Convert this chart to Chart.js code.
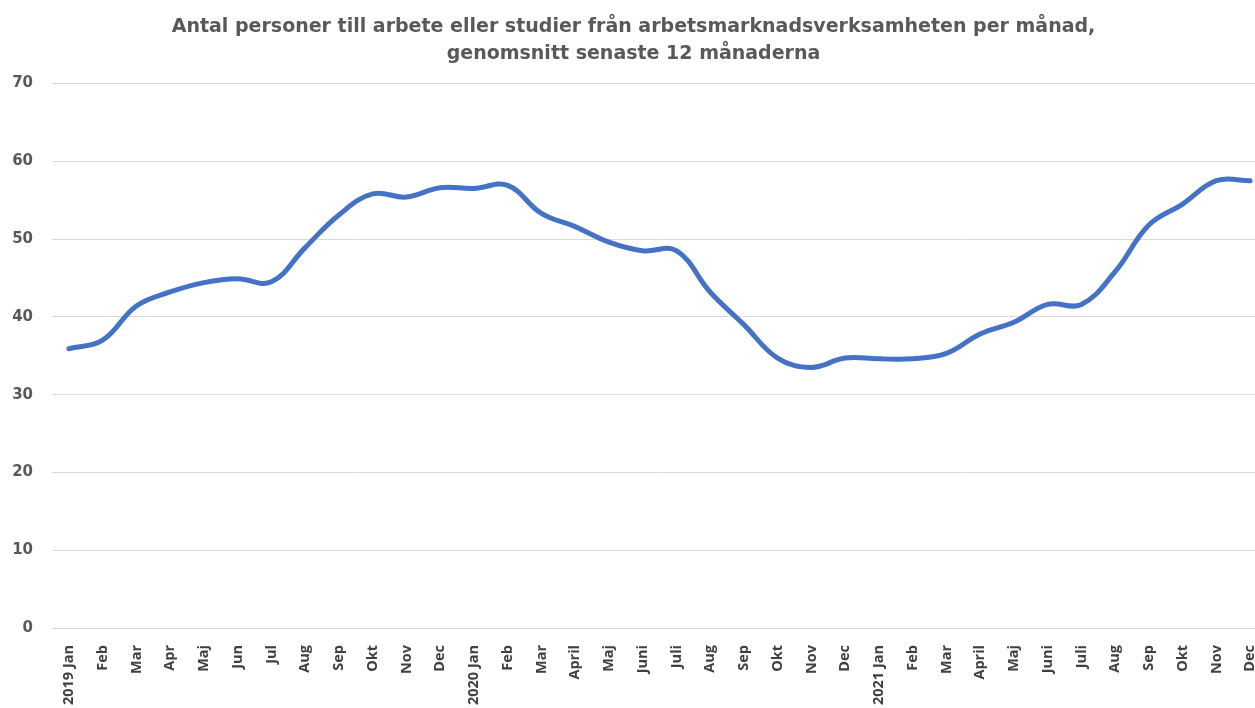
<!DOCTYPE html>
<html>
<head>
<meta charset="utf-8">
<script src="https://cdn.jsdelivr.net/npm/chart.js@4"></script>
<style>
  html, body { margin: 0; padding: 0; background: #fff; overflow: hidden; }
  /* the original is cut off on the right, so the canvas runs a bit past the window */
  #wrap { width: 1267px; height: 708px; }
</style>
</head>
<body>
<div id="wrap"><canvas id="line-chart"></canvas></div>
<script>
// months on the x axis
var monthLabels = [
  "2019 Jan", "Feb", "Mar", "Apr", "Maj", "Jun", "Jul", "Aug", "Sep", "Okt", "Nov", "Dec",
  "2020 Jan", "Feb", "Mar", "April", "Maj", "Juni", "Juli", "Aug", "Sep", "Okt", "Nov", "Dec",
  "2021 Jan", "Feb", "Mar", "April", "Maj", "Juni", "Juli", "Aug", "Sep", "Okt", "Nov", "Dec"
];

// persons per month, 12 month average
var avgPersons = [
  35.9, 37.0, 41.4, 43.2, 44.4, 44.9, 44.5, 48.9, 53.1, 55.8, 55.4, 56.6,
  56.5, 56.9, 53.3, 51.6, 49.6, 48.5, 48.5, 43.2, 39.0, 34.7, 33.5, 34.7,
  34.6, 34.6, 35.3, 37.8, 39.3, 41.6, 41.6, 45.8, 51.8, 54.5, 57.5, 57.5
];

var yTicks = { min: 0, max: 70, step: 10 };

var titleLines = [
  "Antal personer till arbete eller studier från arbetsmarknadsverksamheten per månad,",
  "genomsnitt senaste 12 månaderna"
];

new Chart(document.getElementById("line-chart"), {
  type: 'line',
  data: {
    labels: monthLabels,
    datasets: [{
      data: avgPersons,
      borderColor: "#4472C4",
      borderWidth: 5,
      borderCapStyle: 'round',
      borderJoinStyle: 'round',
      pointRadius: 0,
      tension: 0.4,
      fill: false
    }]
  },
  options: {
    responsive: true,
    maintainAspectRatio: false,
    animation: false,
    layout: { autoPadding: false, padding: 0 },
    plugins: {
      legend: { display: false },
      tooltip: { enabled: false },
      title: {
        display: true,
        text: titleLines,
        color: "#595959",
        font: { family: "'DejaVu Sans'", size: 19, weight: 'bold', lineHeight: 1.42 },
        padding: { top: 14, bottom: 15.5 }
      }
    },
    scales: {
      x: {
        offset: true,
        grid: { display: false, drawTicks: false },
        border: { display: false },
        ticks: {
          autoSkip: false,
          maxRotation: 90,
          minRotation: 90,
          padding: 17,
          color: "#404040",
          font: { family: "'Open Sans'", size: 14.5, weight: 'bold' }
        },
        afterFit: function(scale) {
          scale.height = 80;
          scale.paddingLeft = 0;
          scale.paddingRight = 0;
        }
      },
      y: {
        min: yTicks.min,
        max: yTicks.max,
        grid: { color: "#d9d9d9", drawTicks: false },
        border: { display: false },
        ticks: {
          stepSize: yTicks.step,
          padding: 19,
          color: "#595959",
          font: { family: "'DejaVu Sans'", size: 15, weight: 'bold' }
        },
        afterFit: function(scale) {
          scale.width = 52;
        }
      }
    }
  }
});
</script>
</body>
</html>
